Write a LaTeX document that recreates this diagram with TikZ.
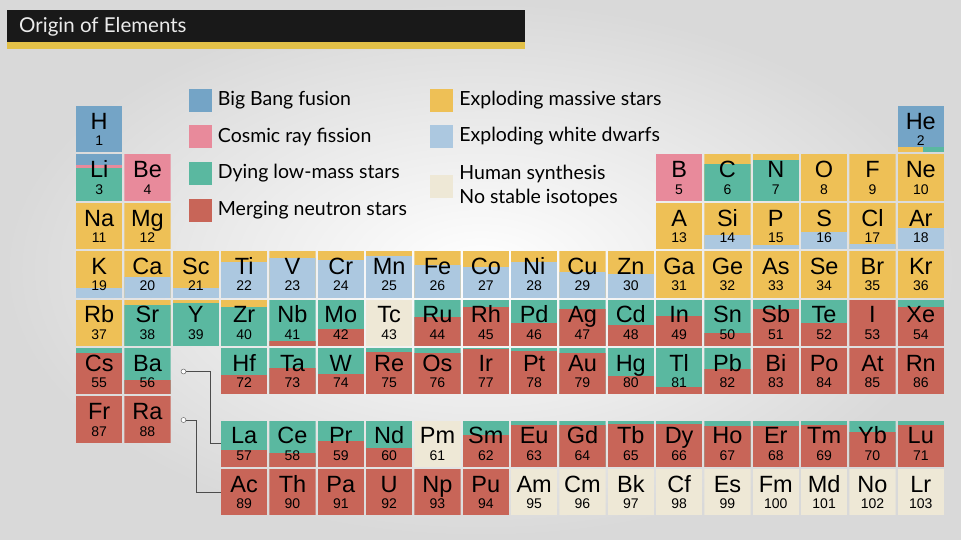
\documentclass[tikz,border=0pt]{standalone}
\usepackage{fontspec}
\usetikzlibrary{positioning}
\newfontfamily\elfont{Liberation Sans}
\newfontfamily\legfont{Lato}

\definecolor{bb}{RGB}{116,164,198}
\definecolor{cr}{RGB}{232,138,155}
\definecolor{lm}{RGB}{90,184,160}
\definecolor{ns}{RGB}{200,101,88}
\definecolor{ms}{RGB}{238,192,86}
\definecolor{wd}{RGB}{172,200,224}
\definecolor{hs}{RGB}{238,232,214}
\definecolor{gold}{RGB}{226,192,72}

\tikzstyle{cell} = [minimum size=46.4pt, inner sep=0pt, outer sep=0pt]
\tikzstyle{sym} = [font=\elfont\fontsize{23.5}{24}\selectfont, inner sep=0pt, anchor=base]
\tikzstyle{num} = [font=\elfont\fontsize{14}{15}\selectfont, inner sep=0pt, anchor=base]
\tikzstyle{swatch} = [minimum size=23pt, inner sep=0pt]
\tikzstyle{legtext} = [font=\legfont\fontsize{19.5}{24}\selectfont, inner sep=0pt, align=left]
\tikzstyle{marker} = [circle, draw=black!70, fill=white, minimum size=5pt, inner sep=0pt]
\tikzstyle{link} = [draw=black!70, line width=0.9pt]

% column, row, symbol, number, fills (first fills the cell, the rest from the bottom)
\newcommand{\elem}[5]{%
  \node[cell, path picture={
      \foreach \c/\f in {#5}
        \fill[fill=\c] (path picture bounding box.south west) rectangle
          ([yshift=\f*46.4pt]path picture bounding box.south east);
    }] (#3) at ({75+(#1-0.5)*48.33}, {ry(#2)+23.2}) {};
  \node[sym] (#3-s) at ([yshift=0pt]#3.center) {#3};
  \node[num] (#3-n) at ([yshift=-16.5pt]#3.center) {#4};
}

\begin{document}
\begin{tikzpicture}[x=1pt, y=-1pt,
    declare function={ry(\r)=(\r<8)*(106+(\r-1)*48.4)+(\r>7)*(420.5+(\r-8)*48.4);}]
\useasboundingbox (0,0) rectangle (961,539);
\shade[inner color=white, outer color=black!15] (0,0) rectangle (961,539);

% title bar
\fill[black!90] (7,10) rectangle (525,42);
\fill[gold] (7,42) rectangle (525,49);
\node[font=\legfont\fontsize{20.5}{21}\selectfont, text=black!8, anchor=west, inner sep=0pt] (title) at (19,26.5) {Origin of Elements};

% legend
\node[swatch, fill=bb] (kbb) at (200,100) {};
\node[legtext, right=6pt of kbb] (tbb) {Big Bang fusion};
\node[swatch, fill=cr] (kcr) at (200,136.5) {};
\node[legtext, right=6pt of kcr] (tcr) {Cosmic ray fission};
\node[swatch, fill=lm] (klm) at (200,173) {};
\node[legtext, right=6pt of klm] (tlm) {Dying low-mass stars};
\node[swatch, fill=ns] (kns) at (200,210) {};
\node[legtext, right=6pt of kns] (tns) {Merging neutron stars};
\node[swatch, fill=ms] (kms) at (441.5,100) {};
\node[legtext, right=6pt of kms] (tms) {Exploding massive stars};
\node[swatch, fill=wd] (kwd) at (441.5,136.5) {};
\node[legtext, right=6pt of kwd] (twd) {Exploding white dwarfs};
\node[swatch, fill=hs] (khs) at (441.5,186) {};
\node[legtext, right=6pt of khs] (ths) {Human synthesis\\No stable isotopes};

% period 1
\elem{1}{1}{H}{1}{bb/1}
\elem{18}{1}{He}{2}{bb/1}
\fill[ms] (He.south west) rectangle ([xshift=25pt,yshift=5pt]He.south west);
\fill[lm] ([xshift=25pt]He.south west) rectangle ([yshift=5pt]He.south east);

% period 2
\elem{1}{2}{Li}{3}{bb/1,cr/0.77,lm/0.70}
\elem{2}{2}{Be}{4}{cr/1}
\elem{13}{2}{B}{5}{cr/1}
\elem{14}{2}{C}{6}{ms/1,lm/0.8}
\elem{15}{2}{N}{7}{ms/1,lm/0.87}
\elem{16}{2}{O}{8}{ms/1}
\elem{17}{2}{F}{9}{ms/1}
\elem{18}{2}{Ne}{10}{ms/1}

% period 3
\elem{1}{3}{Na}{11}{ms/1}
\elem{2}{3}{Mg}{12}{ms/1}
\elem{13}{3}{A}{13}{ms/1}
\elem{14}{3}{Si}{14}{ms/1,wd/0.3}
\elem{15}{3}{P}{15}{ms/1,wd/0.08}
\elem{16}{3}{S}{16}{ms/1,wd/0.37}
\elem{17}{3}{Cl}{17}{ms/1,wd/0.12}
\elem{18}{3}{Ar}{18}{ms/1,wd/0.46}

% period 4
\elem{1}{4}{K}{19}{ms/1,wd/0.2}
\elem{2}{4}{Ca}{20}{ms/1,wd/0.45}
\elem{3}{4}{Sc}{21}{ms/1,wd/0.2}
\elem{4}{4}{Ti}{22}{ms/1,wd/0.77}
\elem{5}{4}{V}{23}{ms/1,wd/0.85}
\elem{6}{4}{Cr}{24}{ms/1,wd/0.82}
\elem{7}{4}{Mn}{25}{ms/1,wd/0.9}
\elem{8}{4}{Fe}{26}{ms/1,wd/0.7}
\elem{9}{4}{Co}{27}{ms/1,wd/0.66}
\elem{10}{4}{Ni}{28}{ms/1,wd/0.77}
\elem{11}{4}{Cu}{29}{ms/1,wd/0.55}
\elem{12}{4}{Zn}{30}{ms/1,wd/0.5}
\elem{13}{4}{Ga}{31}{ms/1}
\elem{14}{4}{Ge}{32}{ms/1}
\elem{15}{4}{As}{33}{ms/1}
\elem{16}{4}{Se}{34}{ms/1}
\elem{17}{4}{Br}{35}{ms/1}
\elem{18}{4}{Kr}{36}{ms/1}

% period 5
\elem{1}{5}{Rb}{37}{ms/1}
\elem{2}{5}{Sr}{38}{ms/1,lm/0.88}
\elem{3}{5}{Y}{39}{ms/1,lm/0.93}
\elem{4}{5}{Zr}{40}{ms/1,lm/0.85}
\elem{5}{5}{Nb}{41}{lm/1,ns/0.1}
\elem{6}{5}{Mo}{42}{lm/1,ns/0.36}
\elem{7}{5}{Tc}{43}{hs/1}
\elem{8}{5}{Ru}{44}{lm/1,ns/0.63}
\elem{9}{5}{Rh}{45}{lm/1,ns/0.85}
\elem{10}{5}{Pd}{46}{lm/1,ns/0.5}
\elem{11}{5}{Ag}{47}{lm/1,ns/0.8}
\elem{12}{5}{Cd}{48}{lm/1,ns/0.45}
\elem{13}{5}{In}{49}{lm/1,ns/0.65}
\elem{14}{5}{Sn}{50}{lm/1,ns/0.27}
\elem{15}{5}{Sb}{51}{lm/1,ns/0.8}
\elem{16}{5}{Te}{52}{lm/1,ns/0.5}
\elem{17}{5}{I}{53}{ns/1}
\elem{18}{5}{Xe}{54}{lm/1,ns/0.85}

% period 6
\elem{1}{6}{Cs}{55}{lm/1,ns/0.9}
\elem{2}{6}{Ba}{56}{lm/1,ns/0.3}
\elem{4}{6}{Hf}{72}{lm/1,ns/0.42}
\elem{5}{6}{Ta}{73}{lm/1,ns/0.57}
\elem{6}{6}{W}{74}{lm/1,ns/0.45}
\elem{7}{6}{Re}{75}{lm/1,ns/0.92}
\elem{8}{6}{Os}{76}{lm/1,ns/0.9}
\elem{9}{6}{Ir}{77}{lm/1,ns/0.97}
\elem{10}{6}{Pt}{78}{lm/1,ns/0.93}
\elem{11}{6}{Au}{79}{lm/1,ns/0.9}
\elem{12}{6}{Hg}{80}{lm/1,ns/0.4}
\elem{13}{6}{Tl}{81}{lm/1,ns/0.15}
\elem{14}{6}{Pb}{82}{lm/1,ns/0.55}
\elem{15}{6}{Bi}{83}{ns/1}
\elem{16}{6}{Po}{84}{ns/1}
\elem{17}{6}{At}{85}{ns/1}
\elem{18}{6}{Rn}{86}{ns/1}

% period 7
\elem{1}{7}{Fr}{87}{ns/1}
\elem{2}{7}{Ra}{88}{ns/1}

% lanthanides
\elem{4}{8}{La}{57}{lm/1,ns/0.36}
\elem{5}{8}{Ce}{58}{lm/1,ns/0.3}
\elem{6}{8}{Pr}{59}{lm/1,ns/0.55}
\elem{7}{8}{Nd}{60}{lm/1,ns/0.4}
\elem{8}{8}{Pm}{61}{hs/1}
\elem{9}{8}{Sm}{62}{lm/1,ns/0.68}
\elem{10}{8}{Eu}{63}{lm/1,ns/0.9}
\elem{11}{8}{Gd}{64}{lm/1,ns/0.9}
\elem{12}{8}{Tb}{65}{lm/1,ns/0.92}
\elem{13}{8}{Dy}{66}{lm/1,ns/0.93}
\elem{14}{8}{Ho}{67}{lm/1,ns/0.88}
\elem{15}{8}{Er}{68}{lm/1,ns/0.88}
\elem{16}{8}{Tm}{69}{lm/1,ns/0.9}
\elem{17}{8}{Yb}{70}{lm/1,ns/0.75}
\elem{18}{8}{Lu}{71}{lm/1,ns/0.9}

% actinides
\elem{4}{9}{Ac}{89}{ns/1}
\elem{5}{9}{Th}{90}{ns/1}
\elem{6}{9}{Pa}{91}{ns/1}
\elem{7}{9}{U}{92}{ns/1}
\elem{8}{9}{Np}{93}{ns/1}
\elem{9}{9}{Pu}{94}{ns/1}
\elem{10}{9}{Am}{95}{hs/1}
\elem{11}{9}{Cm}{96}{hs/1}
\elem{12}{9}{Bk}{97}{hs/1}
\elem{13}{9}{Cf}{98}{hs/1}
\elem{14}{9}{Es}{99}{hs/1}
\elem{15}{9}{Fm}{100}{hs/1}
\elem{16}{9}{Md}{101}{hs/1}
\elem{17}{9}{No}{102}{hs/1}
\elem{18}{9}{Lr}{103}{hs/1}

% links to the f-block rows
\node[marker] (mLa) at (183.5,371.5) {};
\node[marker] (mAc) at (183.5,420) {};
\draw[link] (mLa) -| ([xshift=-11pt]La.west) -- (La.west);
\draw[link] (mAc) -| ([xshift=-25pt]Ac.west) -- (Ac.west);
\end{tikzpicture}
\end{document}
